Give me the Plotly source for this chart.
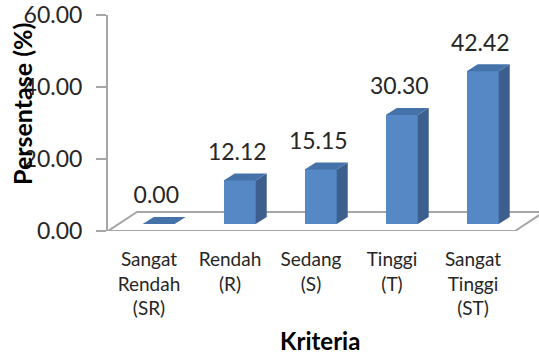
import plotly.graph_objects as go

# ---- data ----
categories = ["Sangat<br>Rendah<br>(SR)", "Rendah<br>(R)", "Sedang<br>(S)", "Tinggi<br>(T)", "Sangat<br>Tinggi<br>(ST)"]
values = [0.00, 12.12, 15.15, 30.30, 42.42]
y_ticks = [0, 20, 40, 60]
y_ticktext = ["0.00", "20.00", "40.00", "60.00"]

# ---- style / layout constants ----
FONT = "Lato"
TXT = "#262626"
GRID = "#A6A6A6"
FRONT = "#5588C4"
TOP = "#4672AA"
SIDE = "#3C5F8E"

X0, X1 = -0.506, 4.815          # x-axis range
BAR_W = 0.395                   # bar width (x units)
OFF_X, OFF_Y = 0.12, 1.94       # bar front plane offset (depth)
D_X, D_Y = 0.136, 1.94          # bar depth
FLOOR_R = 4.519                 # floor front-right end
F_X, F_Y = 0.358, 5.28          # floor depth

fig = go.Figure()

# floor (drawn beneath everything)
fig.add_shape(
    type="path",
    path=f"M {X0},0 L {FLOOR_R},0 L {FLOOR_R + F_X},{F_Y} L {X0 + F_X},{F_Y} Z",
    xref="x", yref="y", layer="below",
    fillcolor="white", line=dict(color=GRID, width=2))

# front faces
fig.add_trace(go.Bar(
    x=[i + OFF_X for i in range(len(values))], y=values, base=OFF_Y, width=BAR_W,
    marker=dict(color=FRONT, line=dict(width=0)), showlegend=False, hoverinfo="skip"))

for i, v in enumerate(values):
    c = i + OFF_X
    l, r = c - BAR_W / 2, c + BAR_W / 2
    b, t = OFF_Y, OFF_Y + v
    # side face
    if v > 0:
        fig.add_trace(go.Scatter(
            x=[r, r + D_X, r + D_X, r, r], y=[b, b + D_Y, t + D_Y, t, b],
            mode="lines", fill="toself", fillcolor=SIDE, line=dict(width=0, color=SIDE),
            hoverinfo="skip", showlegend=False))
    # top face
    fig.add_trace(go.Scatter(
        x=[l, r, r + D_X, l + D_X, l], y=[t, t, t + D_Y, t + D_Y, t],
        mode="lines", fill="toself", fillcolor=TOP, line=dict(width=0, color=TOP),
        hoverinfo="skip", showlegend=False))

# data labels
fig.add_trace(go.Scatter(
    x=[i + OFF_X - 0.03 for i in range(len(values))],
    y=[OFF_Y + v + 7.3 for v in values],
    mode="text", text=[f"{v:.2f}" for v in values],
    textposition="middle center", textfont=dict(family=FONT, size=23, color=TXT),
    cliponaxis=False, showlegend=False, hoverinfo="skip"))

fig.update_layout(
    width=539, height=354,
    margin=dict(l=108, r=0, t=15, b=123),
    paper_bgcolor="white", plot_bgcolor="white",
    bargap=0,
    xaxis=dict(range=[X0, X1], tickvals=list(range(len(categories))), ticktext=categories,
               showgrid=False, zeroline=False, showline=False, ticks="",
               tickfont=dict(family=FONT, size=19, color=TXT), ticklabelstandoff=15),
    yaxis=dict(range=[0, 60], tickvals=y_ticks, ticktext=y_ticktext,
               showgrid=False, zeroline=False, showline=True, linecolor=GRID, linewidth=2,
               ticks="outside", ticklen=10, tickcolor=GRID, tickwidth=2,
               tickfont=dict(family=FONT, size=23, color=TXT), ticklabelstandoff=9),
    annotations=[
        dict(text="<b>Persentase (%)</b>", textangle=-90, xref="paper", yref="paper",
             x=(22 - 108) / 431, y=(231 - 104) / 216, xanchor="center", yanchor="middle",
             showarrow=False, font=dict(family=FONT, size=25, color="black")),
        dict(text="<b>Kriteria</b>", xref="paper", yref="paper",
             x=(320 - 108) / 431, y=(231 - 340) / 216, xanchor="center", yanchor="middle",
             showarrow=False, font=dict(family=FONT, size=24, color="black")),
    ],
)

fig.write_html("out.html")
